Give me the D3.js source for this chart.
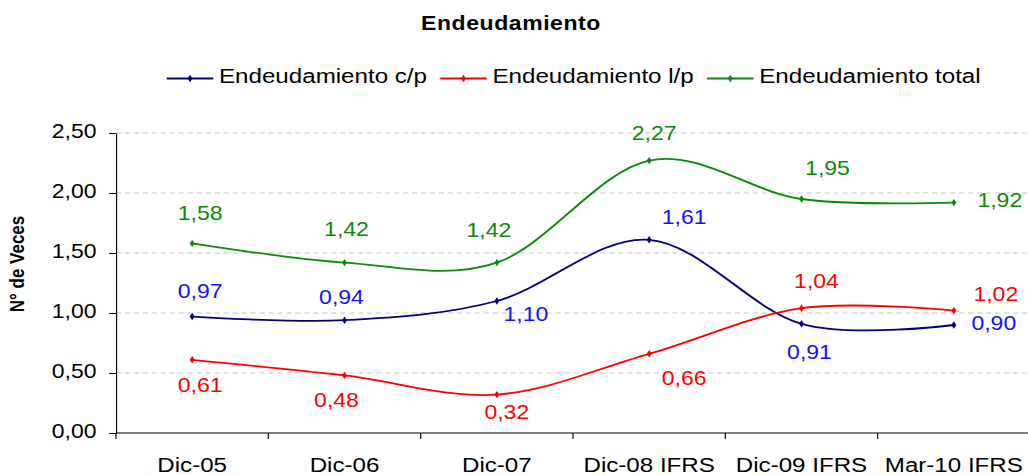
<!DOCTYPE html>
<html>
<head>
<meta charset="utf-8">
<script src="https://cdn.jsdelivr.net/npm/d3@7"></script>
<style>
  body { margin: 0; background: #fff; }
  svg { display: block; font-family: "Liberation Sans", Arial, sans-serif; }
</style>
</head>
<body>
<svg id="chart"></svg>
<script>
// data
var categories = ["Dic-05", "Dic-06", "Dic-07", "Dic-08 IFRS", "Dic-09 IFRS", "Mar-10 IFRS"];
var seriesNames = ["Endeudamiento c/p", "Endeudamiento l/p", "Endeudamiento total"];
var cortoPlazo = [0.97, 0.94, 1.10, 1.61, 0.91, 0.90];
var largoPlazo = [0.61, 0.48, 0.32, 0.66, 1.04, 1.02];
var total = [1.58, 1.42, 1.42, 2.27, 1.95, 1.92];
var yTicks = [0, 0.5, 1, 1.5, 2, 2.5];

// label nudges (screen px, from point to label centre/baseline)
var offsetsCP = [[8, -19], [-3, -16], [29, 20], [35, -16], [8, 35], [40, 5]];
var offsetsLP = [[8, 32], [-8, 32], [10, 24], [35, 31], [15, -20], [42, -10]];
var offsetsTot = [[8, -23], [2, -27], [-8, -26], [5, -21], [26, -24], [46, 4]];

// the original picture is stretched sideways, so draw in a narrower box
var sx = 1.15;
var dimensions = {
    width: 1028,
    height: 475,
    left: 116 / sx,
    right: 1030 / sx,
    top: 133,
    bottom: 433
};
var vbWidth = dimensions.width / sx;
var font = "'Liberation Sans', Arial, sans-serif";

var svg = d3.select("#chart")
    .attr("width", dimensions.width)
    .attr("height", dimensions.height)
    .attr("viewBox", "0 0 " + vbWidth + " " + dimensions.height)
    .attr("preserveAspectRatio", "none");

var xScale = d3.scaleBand()
    .domain(categories)
    .range([dimensions.left, dimensions.right]);

var yScale = d3.scaleLinear()
    .domain([0, 2.5])
    .range([dimensions.bottom, dimensions.top]);

var fmt = function (v) { return d3.format(".2f")(v).replace(".", ","); };

// grid
svg.append("g")
    .selectAll("line")
    .data(yTicks.filter(function (d) { return d > 0; }))
    .enter()
    .append("line")
    .attr("x1", dimensions.left)
    .attr("x2", vbWidth)
    .attr("y1", function (d) { return yScale(d); })
    .attr("y2", function (d) { return yScale(d); })
    .attr("stroke", "#c6c6c6")
    .attr("stroke-width", 1)
    .attr("stroke-dasharray", "4.4,3.4");

// y axis
var yAxis = svg.append("g")
    .attr("transform", "translate(" + dimensions.left + ",0)")
    .call(d3.axisLeft(yScale).tickValues(yTicks).tickFormat(fmt).tickSize(6).tickSizeOuter(0).tickPadding(11));
yAxis.attr("font-family", font);
yAxis.select(".domain").attr("stroke", "#000");
yAxis.selectAll(".tick line").attr("stroke", "#000");
yAxis.selectAll("text")
    .attr("font-size", 20)
    .attr("fill", "#000")
    .attr("dy", "0.24em");

// x axis
var xAxis = svg.append("g")
    .attr("transform", "translate(0," + dimensions.bottom + ")")
    .call(d3.axisBottom(xScale).tickSize(0).tickSizeOuter(0));
xAxis.attr("font-family", font);
xAxis.select(".domain").remove();
xAxis.selectAll("text")
    .attr("font-size", 21)
    .attr("fill", "#000")
    .attr("dy", null)
    .attr("y", 38.7);
xAxis.append("line")
    .attr("x1", dimensions.left)
    .attr("x2", vbWidth)
    .attr("stroke", "#000");
xAxis.selectAll(".boundary")
    .data(categories)
    .enter()
    .append("line")
    .attr("x1", function (d) { return xScale(d); })
    .attr("x2", function (d) { return xScale(d); })
    .attr("y1", 0)
    .attr("y2", 6)
    .attr("stroke", "#000");

// y axis title
svg.append("text")
    .attr("transform", "translate(" + (24 / sx) + ",264) rotate(-90)")
    .attr("text-anchor", "middle")
    .attr("font-size", 17)
    .attr("font-weight", "bold")
    .text("N° de Veces");

// title
svg.append("text")
    .attr("x", 511 / sx)
    .attr("y", 30)
    .attr("text-anchor", "middle")
    .attr("font-size", 20)
    .attr("font-weight", "bold")
    .attr("letter-spacing", 0.5)
    .text("Endeudamiento");

var series = [
    { name: seriesNames[0], values: cortoPlazo, line: "#000080", label: "#1010ff", offsets: offsetsCP },
    { name: seriesNames[1], values: largoPlazo, line: "#ff0000", label: "#ff0000", offsets: offsetsLP },
    { name: seriesNames[2], values: total, line: "#0a8a0a", label: "#0a8a0a", offsets: offsetsTot }
];

var lineGen = d3.line()
    .x(function (d, i) { return xScale(categories[i]) + xScale.bandwidth() / 2; })
    .y(function (d) { return yScale(d); })
    .curve(d3.curveCardinal.tension(0));

var diamond = d3.symbol().type(d3.symbolDiamond).size(16);

series.forEach(function (s) {
    var g = svg.append("g");

    g.append("path")
        .datum(s.values)
        .attr("d", lineGen)
        .attr("fill", "none")
        .attr("stroke", s.line)
        .attr("stroke-width", 1.8);

    g.selectAll(".pt")
        .data(s.values)
        .enter()
        .append("path")
        .attr("d", diamond)
        .attr("transform", function (d, i) {
            return "translate(" + (xScale(categories[i]) + xScale.bandwidth() / 2) + "," + yScale(d) + ")";
        })
        .attr("fill", s.line);

    g.selectAll(".lbl")
        .data(s.values)
        .enter()
        .append("text")
        .attr("x", function (d, i) { return xScale(categories[i]) + xScale.bandwidth() / 2 + s.offsets[i][0] / sx; })
        .attr("y", function (d, i) { return yScale(d) + s.offsets[i][1]; })
        .attr("text-anchor", "middle")
        .attr("font-size", 20)
        .attr("fill", s.label)
        .text(fmt);
});

// legend
var legend = svg.append("g").attr("transform", "translate(0,78.5)");
var lx = 166.7 / sx;
series.forEach(function (s) {
    legend.append("line")
        .attr("x1", lx)
        .attr("x2", lx + 40.5)
        .attr("stroke", s.line)
        .attr("stroke-width", 1.8);
    legend.append("path")
        .attr("d", diamond)
        .attr("transform", "translate(" + (lx + 20.25) + ",0)")
        .attr("fill", s.line);
    var t = legend.append("text")
        .attr("x", lx + 45.5)
        .attr("y", 4.7)
        .attr("font-size", 21)
        .attr("fill", "#000")
        .text(s.name);
    lx = lx + 45.5 + t.node().getComputedTextLength() + 11.5;
});
</script>
</body>
</html>
